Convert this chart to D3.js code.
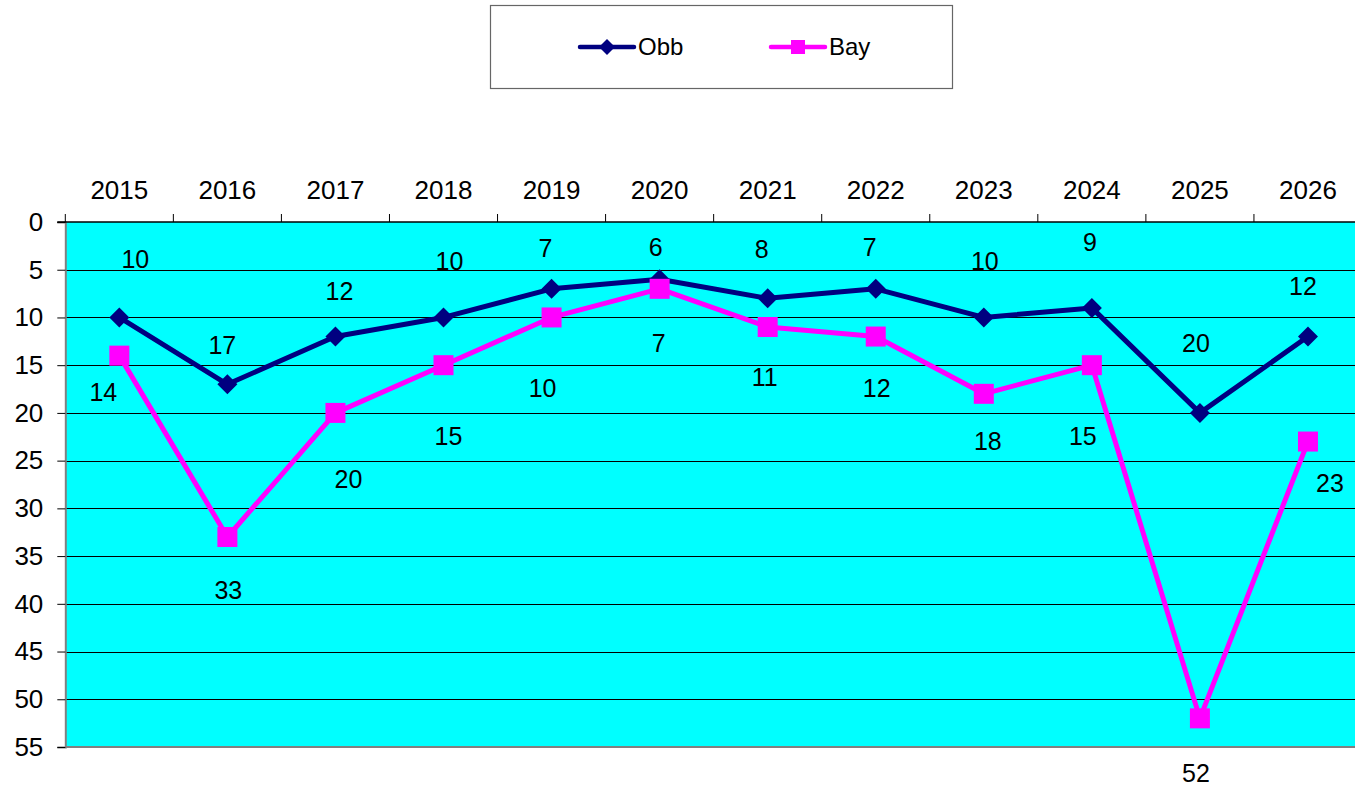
<!DOCTYPE html>
<html lang="en">
<head>
  <meta charset="UTF-8">
  <title>Obb / Bay</title>
  <style>
    body { margin: 0; background: #fff; }
    svg { display: block; font-family: Arial, "Liberation Sans", sans-serif; }
  </style>
</head>
<body>
<svg width="1355" height="787"></svg>

<script src="https://cdn.jsdelivr.net/npm/d3@7/dist/d3.min.js"></script>
<script>
  var years = ['2015', '2016', '2017', '2018', '2019', '2020', '2021', '2022', '2023', '2024', '2025', '2026'];
  var obb = [10, 17, 12, 10, 7, 6, 8, 7, 10, 9, 20, 12];
  var bay = [14, 33, 20, 15, 10, 7, 11, 12, 18, 15, 52, 23];
  var yTicks = [0, 5, 10, 15, 20, 25, 30, 35, 40, 45, 50, 55];

  // where the value labels sit relative to their point (px)
  var obbLabelDx = [16, -5, 4, 6, -6, -4, -6, -6, 1, -2, -4, -5];
  var obbLabelDy = [-58, -39, -45, -56, -41, -32, -49, -42, -56, -66, -70, -50];
  var bayLabelDx = [-16, 1, 13, 5, -9, -1, -3, 1, 4, -9, -4, 22];
  var bayLabelDy = [37, 53, 66, 71, 71, 54, 50, 52, 47, 71, 55, 42];

  var svg = d3.select('svg');
  var plot = {left: 65.3, right: 1362, top: 222, bottom: 747};

  var x = d3.scaleBand().domain(years).range([plot.left, plot.right]);
  var y = d3.scaleLinear().domain([0, 55]).range([plot.top, plot.bottom]);
  var cx = function (d, i) { return x(years[i]) + x.bandwidth() / 2; };

  // plot area
  svg.append('rect')
    .attr('x', plot.left).attr('y', plot.top)
    .attr('width', plot.right - plot.left).attr('height', plot.bottom - plot.top)
    .attr('fill', '#00ffff');

  // gridlines
  svg.append('g').selectAll('line').data(yTicks.slice(1, -1)).enter().append('line')
    .attr('x1', plot.left).attr('x2', plot.right)
    .attr('y1', function (d) { return Math.round(y(d)) + 0.5; })
    .attr('y2', function (d) { return Math.round(y(d)) + 0.5; })
    .attr('stroke', '#000').attr('stroke-width', 1.2);

  // bottom border
  svg.append('line')
    .attr('x1', plot.left).attr('x2', plot.right)
    .attr('y1', plot.bottom).attr('y2', plot.bottom)
    .attr('stroke', '#808080').attr('stroke-width', 2);

  // y axis
  var yAxis = d3.axisLeft(y).tickValues(yTicks).tickSize(8).tickPadding(14);
  var gy = svg.append('g').attr('transform', 'translate(' + plot.left + ',0)').call(yAxis);
  gy.select('.domain').attr('stroke', '#808080').attr('stroke-width', 2);
  gy.selectAll('.tick line').attr('stroke', '#000');
  gy.selectAll('.tick text').attr('font-size', 26).attr('fill', '#000')
    .attr('font-family', 'Arial, "Liberation Sans", sans-serif');

  // x axis on top, ticks between categories
  svg.append('line')
    .attr('x1', plot.left - 8).attr('x2', plot.right)
    .attr('y1', plot.top).attr('y2', plot.top)
    .attr('stroke', '#000').attr('stroke-width', 1.5);
  svg.append('g').selectAll('line').data(years).enter().append('line')
    .attr('x1', function (d) { return x(d); }).attr('x2', function (d) { return x(d); })
    .attr('y1', plot.top - 8).attr('y2', plot.top)
    .attr('stroke', '#000').attr('stroke-width', 1);
  svg.append('g').selectAll('text').data(years).enter().append('text')
    .attr('x', function (d) { return x(d) + x.bandwidth() / 2; })
    .attr('y', 190)
    .attr('dy', '0.35em')
    .attr('text-anchor', 'middle')
    .attr('font-size', 26)
    .text(function (d) { return d; });

  var line = d3.line().x(cx).y(function (d) { return y(d); });

  // Obb
  svg.append('path').datum(obb).attr('d', line)
    .attr('fill', 'none').attr('stroke', '#000080').attr('stroke-width', 5).attr('stroke-linejoin', 'round');
  svg.append('g').selectAll('path').data(obb).enter().append('path')
    .attr('d', 'M0,-10L10,0L0,10L-10,0Z')
    .attr('transform', function (d, i) { return 'translate(' + cx(d, i) + ',' + y(d) + ')'; })
    .attr('fill', '#000080');

  // Bay
  svg.append('path').datum(bay).attr('d', line)
    .attr('fill', 'none').attr('stroke', '#ff00ff').attr('stroke-width', 5).attr('stroke-linejoin', 'round');
  svg.append('g').selectAll('rect').data(bay).enter().append('rect')
    .attr('x', function (d, i) { return cx(d, i) - 10; })
    .attr('y', function (d) { return y(d) - 10; })
    .attr('width', 20).attr('height', 20)
    .attr('fill', '#ff00ff');

  // value labels
  svg.append('g').selectAll('text').data(obb).enter().append('text')
    .attr('x', function (d, i) { return cx(d, i) + obbLabelDx[i]; })
    .attr('y', function (d, i) { return y(d) + obbLabelDy[i]; })
    .attr('dy', '0.35em').attr('text-anchor', 'middle').attr('font-size', 25)
    .text(function (d) { return d; });
  svg.append('g').selectAll('text').data(bay).enter().append('text')
    .attr('x', function (d, i) { return cx(d, i) + bayLabelDx[i]; })
    .attr('y', function (d, i) { return y(d) + bayLabelDy[i]; })
    .attr('dy', '0.35em').attr('text-anchor', 'middle').attr('font-size', 25)
    .text(function (d) { return d; });

  // legend
  var legend = svg.append('g');
  legend.append('rect')
    .attr('x', 490.5).attr('y', 5.5).attr('width', 462).attr('height', 83)
    .attr('fill', '#fff').attr('stroke', '#666').attr('stroke-width', 1.2);
  var items = [
    {name: 'Obb', color: '#000080', x: 580, marker: 'diamond'},
    {name: 'Bay', color: '#ff00ff', x: 771, marker: 'square'}
  ];
  var li = legend.selectAll('g.item').data(items).enter().append('g')
    .attr('transform', function (d) { return 'translate(' + d.x + ',47)'; });
  li.append('line').attr('x1', 0).attr('x2', 54).attr('y1', 0).attr('y2', 0)
    .attr('stroke', function (d) { return d.color; }).attr('stroke-width', 4.5).attr('stroke-linecap', 'round');
  li.append('path')
    .attr('d', function (d) { return d.marker === 'diamond' ? 'M27,-8L35,0L27,8L19,0Z' : 'M20,-7H34V7H20Z'; })
    .attr('fill', function (d) { return d.color; });
  li.append('text').attr('x', 58).attr('y', 0).attr('dy', '0.35em')
    .attr('font-size', 24).text(function (d) { return d.name; });
</script>
</body>
</html>
